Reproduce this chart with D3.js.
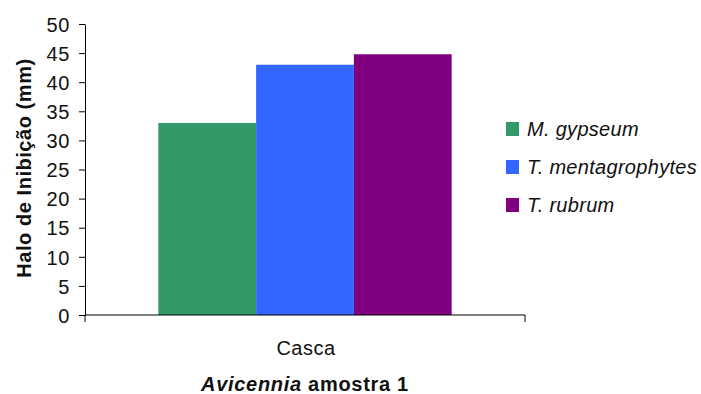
<!DOCTYPE html>
<html><head><meta charset="utf-8">
<script src="https://cdn.jsdelivr.net/npm/d3@7"></script>
<style>body{margin:0;background:#fff;font-family:"Liberation Sans",Arial,sans-serif;}</style>
</head><body>
<svg id="c" width="701" height="394"></svg>
<script>
const categories = ["Casca"];
const series = ["M. gypseum", "T. mentagrophytes", "T. rubrum"];
const values = [[33], [43], [44.8]];
const colors = ["#339966", "#3366FF", "#800080"];
const yTicks = [0,5,10,15,20,25,30,35,40,45,50];

const svg = d3.select("#c");
const FONT = "Liberation Sans, Arial, sans-serif";
const x0 = 85, x1 = 525, yTop = 24, yBot = 315;
const y = d3.scaleLinear().domain([0,50]).range([yBot, yTop]);
const xb = d3.scaleBand().domain(categories).range([x0,x1]).paddingInner(0).paddingOuter(0.25);
const xs = d3.scaleBand().domain(series).range([0, xb.bandwidth()]);

// bars
series.forEach((s,i)=>{
  svg.selectAll(null).data(categories).enter().append("rect")
    .attr("x", c=>xb(c)+xs(s)).attr("width", xs.bandwidth())
    .attr("y", (c,j)=>y(values[i][j])).attr("height",(c,j)=>y(0)-y(values[i][j]))
    .attr("fill", colors[i]);
});

// y axis
const yAxis = d3.axisLeft(y).tickValues(yTicks).tickSize(6).tickSizeOuter(0).tickPadding(9);
const gy = svg.append("g").attr("transform",`translate(${x0},0)`).call(yAxis);
gy.select(".domain").attr("stroke","#000");
gy.selectAll(".tick line").attr("stroke","#000");
gy.selectAll("text").attr("font-size","20px").attr("font-family",FONT).attr("fill","#111")
  .attr("letter-spacing","0.6px").attr("dy","0.36em");

// x axis
svg.append("line").attr("x1",x0).attr("x2",x1).attr("y1",yBot).attr("y2",yBot).attr("stroke","#000");
[x0, x1].forEach(v=>svg.append("line").attr("x1",v).attr("x2",v).attr("y1",yBot).attr("y2",yBot+7).attr("stroke","#000"));
svg.selectAll(null).data(categories).enter().append("text")
  .attr("x", c=>xb(c)+xb.bandwidth()/2+1).attr("y",355).attr("text-anchor","middle")
  .attr("font-size","20px").attr("letter-spacing","0.5px").attr("fill","#111").text(c=>c);

// x title
const t = svg.append("text").attr("x",305).attr("y",391).attr("text-anchor","middle")
  .attr("font-size","20px").attr("font-weight","bold").attr("letter-spacing","0.7px").attr("fill","#111");
t.append("tspan").attr("font-style","italic").text("Avicennia");
t.append("tspan").text(" amostra 1");

// y title
svg.append("text").attr("transform","translate(31,168) rotate(-90)").attr("text-anchor","middle")
  .attr("font-size","20px").attr("font-weight","bold").attr("letter-spacing","0.55px").attr("fill","#111")
  .text("Halo de Inibição (mm)");

// legend
const lg = svg.append("g");
series.forEach((s,i)=>{
  const cy = 129 + i*38;
  lg.append("rect").attr("x",506).attr("y",cy-7).attr("width",13).attr("height",14).attr("fill",colors[i]);
  lg.append("text").attr("x",527).attr("y",cy+7).attr("font-size","20px").attr("font-style","italic")
    .attr("letter-spacing","0.3px").attr("fill","#111").text(s);
});
</script>
</body></html>
